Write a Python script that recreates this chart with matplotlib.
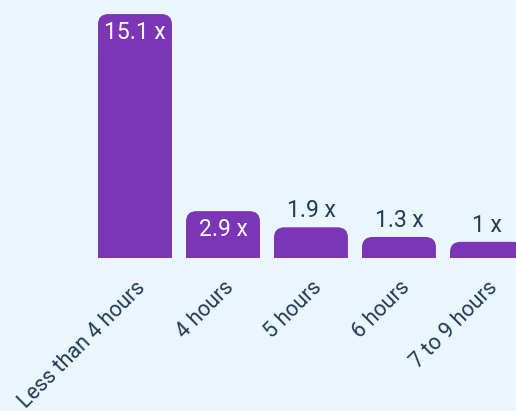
import matplotlib.pyplot as plt
from matplotlib.patches import FancyBboxPatch

plt.rcParams['font.family'] = ['Roboto', 'DejaVu Sans']

# 数据
categories = ['Less than 4 hours', '4 hours', '5 hours', '6 hours', '7 to 9 hours']
values = [15.1, 2.9, 1.9, 1.3, 1.0]
labels = ['15.1 x', '2.9 x', '1.9 x', '1.3 x', '1 x']

bg = '#eaf5fc'
purple = '#7b35b5'
navy = '#1f3d58'

fig = plt.figure(figsize=(5.16, 4.11), dpi=100, facecolor=bg)
ax = fig.add_axes([0, 0.3723, 1, 0.6277])
ax.set_facecolor(bg)

x = list(range(len(values)))
bars = ax.bar(x, values, width=0.84, color=purple)

ax.set_xlim(-1.534, 4.33)
ax.set_ylim(0, 15.97)

#  圆角柱子
r = 0.12
aspect = 5.3
for b in bars:
    x0, y0 = b.get_x(), b.get_y()
    w, h = b.get_width(), b.get_height()
    p = FancyBboxPatch((x0, y0 - 1), w, h + 1,
                       boxstyle='round,pad=0,rounding_size=%f' % r,
                       mutation_aspect=aspect, facecolor=purple,
                       edgecolor='none')
    ax.add_patch(p)
    b.remove()

#  数值标签
for i, (v, lab) in enumerate(zip(values, labels)):
    if v > 2.5:
        ax.text(i, v - 0.45, lab, ha='center', va='top', color='white', fontsize=16.5)
    else:
        ax.text(i, v + 0.3, lab, ha='center', va='bottom', color=navy, fontsize=16.5)

ax.set_xticks(x)
ax.set_xticklabels(categories, rotation=45, ha='right', rotation_mode='anchor',
                   color=navy, fontsize=15.5)
ax.tick_params(axis='x', length=0, pad=14)
ax.set_yticks([])
for s in ax.spines.values():
    s.set_visible(False)

plt.savefig('out.png', dpi=100, facecolor=bg)
